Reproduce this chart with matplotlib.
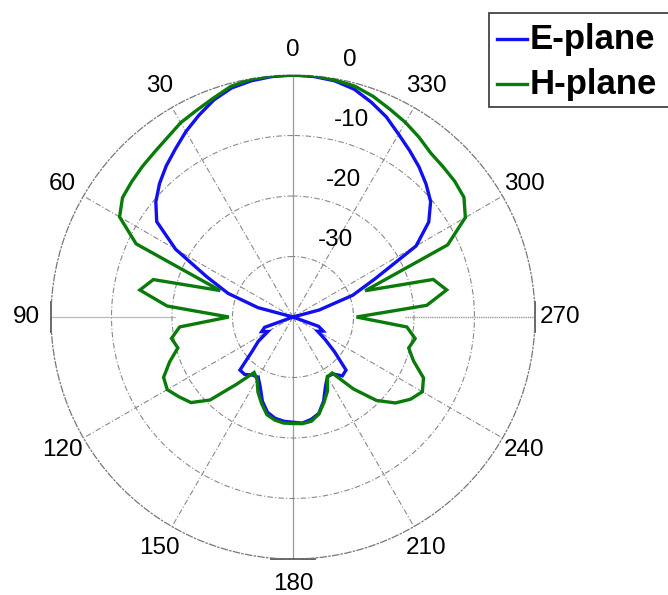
import numpy as np
import matplotlib
matplotlib.use("Agg")
import matplotlib.pyplot as plt
from matplotlib.patches import Rectangle
from matplotlib.lines import Line2D

# ---------------- data ----------------
angles_deg = [0, 5, 10, 15, 20, 25, 30, 35, 40, 45, 50, 55, 60, 65, 70, 75, 80, 85,
              90, 95, 100, 105, 110, 115, 120, 125, 130, 135, 140, 145, 150, 155, 160, 165,
              170, 175, 180, 185, 190, 195, 200, 205, 210, 215, 220, 225, 230, 235, 240, 245,
              250, 255, 260, 265, 270, 275, 280, 285, 290, 295, 300, 305, 310, 315, 320, 325,
              330, 335, 340, 345, 350, 355]

e_plane = [0.0, -0.1, -0.35, -0.8, -1.8, -3.2, -4.6, -6.1, -7.4, -8.8, -10.4, -12.5,
           -17.6, -24.3, -28.6, -34.0, -40, -40,
           -40, -40, -40, -40, -35.0, -34.3, -35.2, -33.0, -31.2, -27.6, -27.6, -28.3,
           -28.5, -27.2, -25.2, -23.7, -23.0, -22.7,
           -22.6, -22.4, -22.8, -23.5, -25.2, -27.3, -28.6, -28.5, -27.3, -27.6, -31.0, -33.5,
           -35.3, -34.5, -35.5, -40, -40, -40,
           -40, -40, -40, -35.5, -29.5, -25.0, -16.5, -12.6, -10.3, -8.9, -7.6, -6.4,
           -5.1, -3.5, -2.2, -1.0, -0.35, -0.1]

h_plane = [0.0, 0.0, -0.1, -0.5, -1.5, -2.3, -2.9, -3.8, -4.4, -4.8, -5.2, -5.6,
           -6.9, -11.4, -27.2, -16.1, -14.3, -19.1,
           -29.4, -21.2, -19.6, -20.3, -18.3, -16.4, -16.0, -17.0, -18.0, -20.6, -25.5, -28.8,
           -28.1, -26.3, -24.8, -23.3, -22.7, -22.4,
           -22.4, -22.3, -22.5, -23.4, -25.0, -26.5, -28.6, -28.7, -24.5, -20.5, -17.9, -16.3,
           -15.3, -16.2, -18.8, -20.2, -19.5, -21.1,
           -29.5, -17.8, -14.2, -16.0, -27.3, -11.8, -7.1, -5.5, -5.1, -4.9, -4.6, -3.7,
           -2.85, -2.1, -1.2, -0.5, -0.2, 0.0]

theta_ticks = [0, 30, 60, 90, 120, 150, 180, 210, 240, 270, 300, 330]
theta_labels = ["0", "30", "60", "90", "120", "150", "180", "210", "240", "270", "300", "330"]
r_ticks = [0, -10, -20, -30]
r_labels = ["0", "-10", "-20", "-30"]
series_names = ["E-plane", "H-plane"]
series_colors = ["#1010f0", "#0a7a0a"]

# ---------------- figure ----------------
plt.rcParams['font.family'] = ['Liberation Sans', 'DejaVu Sans']
W, H = 668, 595
fig = plt.figure(figsize=(W / 100, H / 100), dpi=100)
ax = fig.add_axes([0.0763, 0.0605, 0.7246, 0.8134], projection='polar')
ax.set_theta_zero_location('N')
ax.set_theta_direction(1)
ax.set_ylim(-40, 0)

grid_col = '#8a8a8a'
dashdot = (0, (5, 2, 1, 2))
ax.set_thetagrids([t for t in theta_ticks if t % 90 != 0], labels=[])
ax.set_rgrids([-30, -20, -10], labels=[])
ax.grid(True, color=grid_col, linestyle=dashdot, linewidth=0.8)
ax.spines['polar'].set_linestyle(dashdot)
ax.spines['polar'].set_color('#777777')
ax.spines['polar'].set_linewidth(0.9)
ax.tick_params(axis='both', length=0)

# solid vertical axis, partial horizontal axis
ax.plot([0, 0], [-40, 0], color='#9a9a9a', lw=0.9, zorder=1)
ax.plot([np.pi, np.pi], [-40, 0], color='#9a9a9a', lw=0.9, zorder=1)
ax.plot([np.pi / 2, np.pi / 2], [-20.5, 0], color='#bbbbbb', lw=0.9, zorder=1)
ax.plot([3 * np.pi / 2, 3 * np.pi / 2], [-21.5, 0], color='#999999', lw=1.0,
        linestyle=(0, (1, 0.6)), zorder=1)

# small axis end ticks
ax.plot([0, 0], [0.47, 0.53], transform=ax.transAxes, color='#555555', lw=1.3, clip_on=False)
ax.plot([1, 1], [0.47, 0.53], transform=ax.transAxes, color='#555555', lw=1.3, clip_on=False)
ax.plot([0.455, 0.545], [0, 0], transform=ax.transAxes, color='#555555', lw=1.3, clip_on=False)

# curves
th = np.deg2rad(angles_deg + [angles_deg[0]])
for vals, col in zip([e_plane, h_plane], series_colors):
    r = np.clip(np.array(vals + [vals[0]]), -40, 0)
    ax.plot(th, r, color=col, lw=2.4, zorder=3, solid_joinstyle='miter')

# angle labels
for t, lab in zip(theta_ticks, theta_labels):
    ax.text(np.deg2rad(t), 4.1, lab, ha='center', va='center', fontsize=17.5,
            clip_on=False)

# radial labels
for v, lab in zip(r_ticks, r_labels):
    ax.annotate(lab, xy=(np.deg2rad(-8), v), xytext=(11.5, 12.2),
                textcoords='offset points', ha='left', va='center', fontsize=17.5,
                annotation_clip=False)

# legend (box runs off the right edge as in the reference)
fx = lambda px: px / W
fy = lambda py: 1 - py / H
fig.patches.append(Rectangle((fx(489), fy(107)), fx(700) - fx(489), fy(13) - fy(107),
                             transform=fig.transFigure, facecolor='white',
                             edgecolor='#444444', linewidth=1.3, zorder=5))
for i, (name, col) in enumerate(zip(series_names, series_colors)):
    yc = [39, 84][i]
    fig.lines.append(Line2D([fx(497), fx(527)], [fy(yc), fy(yc)], transform=fig.transFigure,
                            color=col, lw=2.4, zorder=6))
    fig.text(fx(530), fy(yc + 1), name, ha='left', va='center', fontsize=25,
             fontweight='bold', zorder=6)

fig.savefig('out.png', dpi=100)
